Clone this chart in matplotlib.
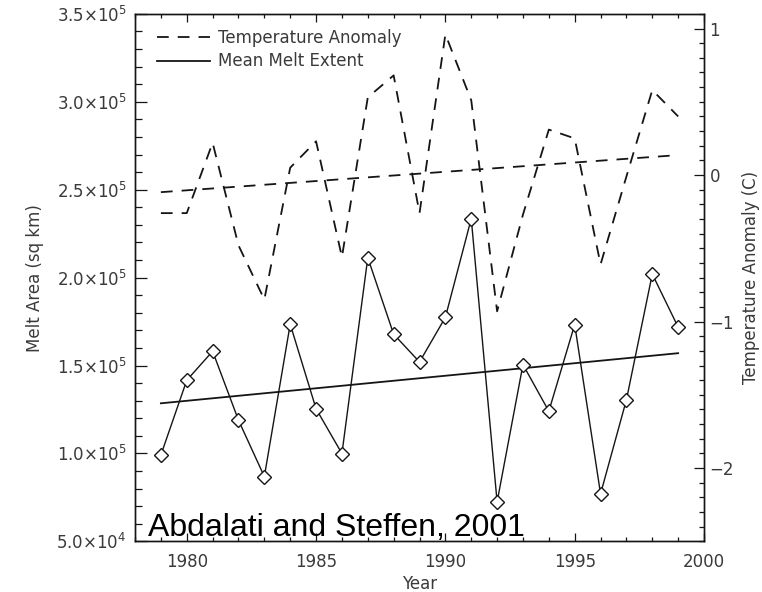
import matplotlib
matplotlib.use("Agg")
import matplotlib.pyplot as plt
from matplotlib.lines import Line2D
from matplotlib.ticker import MultipleLocator, FixedLocator, FixedFormatter

# ---------------- data ----------------
years = [1979, 1980, 1981, 1982, 1983, 1984, 1985, 1986, 1987, 1988, 1989,
         1990, 1991, 1992, 1993, 1994, 1995, 1996, 1997, 1998, 1999]
melt_area = [99100, 141600, 158100, 118900, 86800, 173500, 125400, 99900,
             211300, 167800, 152000, 177400, 233500, 72400, 150500, 124000,
             173300, 77000, 130500, 202000, 171800]
temp_anomaly = [-0.26, -0.26, 0.22, -0.48, -0.85, 0.05, 0.23, -0.56, 0.53,
                0.68, -0.26, 0.96, 0.51, -0.93, -0.27, 0.31, 0.25, -0.61,
                -0.01, 0.58, 0.40]
trend_years = [1979, 1999]
melt_trend = [128500, 157000]
temp_trend = [-0.117, 0.136]

melt_ticks = [5e4, 1e5, 1.5e5, 2e5, 2.5e5, 3e5, 3.5e5]
melt_tick_labels = [r'$5.0{\times}10^{4}$', r'$1.0{\times}10^{5}$',
                    r'$1.5{\times}10^{5}$', r'$2.0{\times}10^{5}$',
                    r'$2.5{\times}10^{5}$', r'$3.0{\times}10^{5}$',
                    r'$3.5{\times}10^{5}$']
temp_ticks = [-2, -1, 0, 1]
temp_tick_labels = ['\u22122', '\u22121', '0', '1']
year_ticks = [1980, 1985, 1990, 1995, 2000]
year_tick_labels = ['1980', '1985', '1990', '1995', '2000']

# ---------------- style ----------------
plt.rcParams['font.family'] = ['DejaVu Sans']
plt.rcParams['mathtext.fontset'] = 'dejavusans'
TXT = '#3a3a3a'
LN = '#151515'
DASH = (0, (6.5, 5.0))

fig = plt.figure(figsize=(7.62, 5.92), dpi=100)
ax = fig.add_axes([0.1772, 0.0856, 0.7467, 0.8910])
ax.set_xlim(1978, 2000)
ax.set_ylim(5e4, 3.5e5)
ax2 = ax.twinx()
ax2.set_ylim(-2.5, 1.1)

# melt extent
ax.plot(years, melt_area, color=LN, lw=1.0, marker='D', ms=7.5,
        mfc='white', mec=LN, mew=1.0, zorder=3)
ax.plot(trend_years, melt_trend, color=LN, lw=1.3, zorder=2)

# temperature anomaly
ax2.plot(years, temp_anomaly, color=LN, lw=1.3, ls=DASH)
ax2.plot(trend_years, temp_trend, color=LN, lw=1.3, ls=DASH)

# ticks
ax.xaxis.set_major_locator(FixedLocator(year_ticks))
ax.xaxis.set_major_formatter(FixedFormatter(year_tick_labels))
ax.xaxis.set_minor_locator(MultipleLocator(1))
ax.yaxis.set_major_locator(FixedLocator(melt_ticks))
ax.yaxis.set_major_formatter(FixedFormatter(melt_tick_labels))
ax.yaxis.set_minor_locator(MultipleLocator(1e4))
ax2.yaxis.set_major_locator(FixedLocator(temp_ticks))
ax2.yaxis.set_major_formatter(FixedFormatter(temp_tick_labels))
ax2.yaxis.set_minor_locator(MultipleLocator(0.1))

ax.tick_params(axis='x', which='both', direction='in', top=True, bottom=True,
               colors=LN, labelcolor=TXT, labelsize=12, pad=8.5, width=0.9)
ax.tick_params(axis='x', which='major', length=5.8)
ax.tick_params(axis='x', which='minor', length=3.1)
ax.tick_params(axis='y', which='both', direction='in', left=True, right=False,
               colors=LN, labelcolor=TXT, labelsize=12, pad=6, width=0.9)
ax.tick_params(axis='y', which='major', length=8.4)
ax.tick_params(axis='y', which='minor', length=5.0)
ax2.tick_params(axis='y', which='both', direction='in', right=True, left=False,
                colors=LN, labelcolor=TXT, labelsize=12, pad=4, width=0.9)
ax2.tick_params(axis='y', which='major', length=7.2)
ax2.tick_params(axis='y', which='minor', length=3.6)

for a in (ax, ax2):
    for s in a.spines.values():
        s.set_color(LN)
        s.set_linewidth(1.0)

ax.set_xlabel('Year', fontsize=12, color=TXT, labelpad=3)
ax.set_ylabel('Melt Area (sq km)', fontsize=12, color=TXT, labelpad=9)
ax2.set_ylabel('Temperature Anomaly (C)', fontsize=12, color=TXT,
               labelpad=6, rotation=90)

# legend
handles = [Line2D([], [], color=LN, lw=1.3, ls=DASH),
           Line2D([], [], color=LN, lw=1.3)]
leg = ax.legend(handles, ['Temperature Anomaly', 'Mean Melt Extent'],
                loc='upper left', bbox_to_anchor=(0.038, 0.972),
                frameon=False, handlelength=3.2, handletextpad=0.5,
                labelspacing=0.35, fontsize=12, borderaxespad=0, borderpad=0)
for t in leg.get_texts():
    t.set_color(TXT)

# citation
fig.text(148 / 762, (592 - 536) / 592, 'Abdalati and Steffen, 2001',
         family='Liberation Sans', fontsize=23, color='black',
         va='baseline', ha='left')

fig.savefig('out.png', dpi=100)
